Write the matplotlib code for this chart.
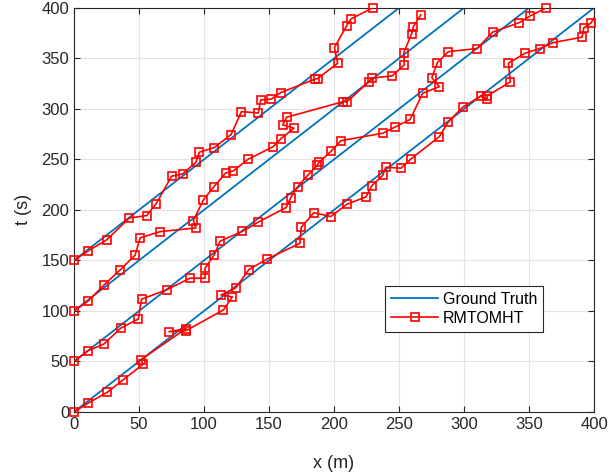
import matplotlib.pyplot as plt
from matplotlib.lines import Line2D

plt.rcParams['font.family'] = ['Liberation Sans', 'DejaVu Sans']

# ground truth tracks: start time, x from 0 with slope 1
gt_starts = [0, 50, 100, 150]

# RMTOMHT estimates (x in m, t in s), one list pair per target
track1_x = [0, 11, 25.6, 37.4, 53.1, 51.5, 86.2, 73.1, 86.2, 114.9, 121.8, 113.1, 124.4,
            134.5, 148.7, 173.8, 174.8, 184.6, 197.5, 209.8, 224.6, 229.2, 237.5, 239.8,
            251.5, 259.2, 281, 287.9, 299, 312.8, 317.5, 317.9, 335.6, 334.1, 346.9,
            358.2, 368.5, 390.8, 392.1, 397.5, 401]
track1_t = [0, 8.9, 19.5, 31.4, 47.2, 51.8, 82.5, 79.5, 80.5, 101, 113.9, 115.8, 122.8,
            141, 151.5, 167, 182.9, 197.3, 193.4, 205.6, 212.9, 224.1, 234.3, 242.3,
            241.3, 250.5, 272.6, 287.1, 301.7, 312.6, 309.6, 312.9, 326.7, 345.2, 355.1,
            359.7, 365.6, 371, 380.2, 384.8, 392]

track2_x = [0, 11, 23.1, 35.9, 49.5, 52, 71.3, 89.2, 100.8, 100.8, 108, 112.3, 129.5,
            141.8, 163.1, 166.7, 172.1, 179.8, 187.2, 188.5, 197.8, 205.4, 237.5, 246.7,
            258.5, 268.2, 281, 275.2, 279.5, 288, 310, 322, 342.6, 350.8, 362.8]
track2_t = [50, 60.7, 67.3, 82.9, 92.1, 111.6, 121, 132.4, 132.4, 142.3, 155.8, 169, 178.8,
            188, 202.3, 212.2, 223.1, 234.3, 244.3, 247.2, 258.2, 268.6, 275.9, 281.9,
            289.5, 315.5, 322, 331, 345.8, 356.7, 359.7, 376, 385.4, 392, 399.7]

track3_x = [0, 11, 23.1, 35.4, 47.1, 50.8, 66.2, 93.8, 91.8, 99.5, 107.7, 116.7, 122.5,
            134, 153.3, 159.2, 169.2, 160.5, 163.6, 207.2, 209.8, 226.9, 229, 244.8,
            254.1, 253.6, 259.8, 261, 266.7]
track3_t = [100, 109.9, 125.7, 140.5, 155.4, 172.3, 178.5, 182.2, 189.4, 209.9, 223.1,
            236.6, 238.6, 250.2, 262.7, 270.6, 280.9, 284.2, 291.8, 307.2, 306.9, 327,
            330.4, 332.7, 343.6, 355.7, 374.6, 381.5, 393]

track4_x = [0, 11, 25.1, 42.5, 55.9, 63.1, 75.1, 83.6, 93.8, 96.4, 107.9, 120.8, 128.8,
            141.8, 143.6, 151.5, 159, 185.1, 187.4, 202.8, 200.3, 209.7, 213.1, 229.7]
track4_t = [150, 159.5, 170.3, 192, 194.4, 206, 233.4, 235.6, 247.2, 257.1, 261.7, 274.6,
            297.3, 296, 308.9, 309.6, 316.1, 329.4, 330, 345.2, 360.7, 382.2, 389.1, 400]

tracks = [(track1_x, track1_t), (track2_x, track2_t), (track3_x, track3_t), (track4_x, track4_t)]

fig = plt.figure(figsize=(6.09, 4.76), dpi=100)
ax = fig.add_axes([0.1215, 0.1345, 0.854, 0.849])

blue = '#0072BD'
for s in gt_starts:
    ax.plot([0, 400 - s], [s, 400], color=blue, lw=1.3, zorder=2)

mk = dict(marker='s', ms=6, mfc='none', mec='red', mew=1.2)
for xs, ts in tracks:
    ax.plot(xs, ts, color='red', lw=1.2, zorder=3)
    # markers drawn whole like MATLAB, only for points inside the limits
    inside = [(x, t) for x, t in zip(xs, ts) if 0 <= x <= 400 and 0 <= t <= 400]
    ax.plot([p[0] for p in inside], [p[1] for p in inside], ls='none',
            zorder=4, clip_on=False, **mk)

ax.set_xlim(0, 400)
ax.set_ylim(0, 400)
ax.set_xticks(range(0, 401, 50))
ax.set_yticks(range(0, 401, 50))
ax.grid(True, color='#e3e3e3', lw=0.8)
ax.set_axisbelow(True)
ax.tick_params(direction='in', length=4, top=True, right=True, labelsize=12,
               colors='#262626', width=0.8)
for sp in ax.spines.values():
    sp.set_color('#262626')
    sp.set_linewidth(0.8)

ax.set_xlabel('x (m)', fontsize=13, color='#262626', labelpad=17)
ax.set_ylabel('t (s)', fontsize=13, color='#262626', labelpad=7)

handles = [Line2D([], [], color=blue, lw=1.3),
           Line2D([], [], color='red', lw=1.2, **mk)]
leg = ax.legend(handles, ['Ground Truth', 'RMTOMHT'], loc='lower left',
                bbox_to_anchor=(0.598, 0.197), fontsize=11.5,
                fancybox=False, framealpha=1, edgecolor='#262626', borderpad=0.4,
                handlelength=2.9, handletextpad=0.3, labelspacing=0.25, borderaxespad=0)
leg.get_frame().set_linewidth(0.8)
leg.set_zorder(10)

plt.savefig('out.png', dpi=100)
